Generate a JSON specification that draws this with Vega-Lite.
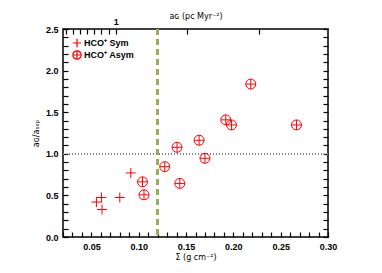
{
  "$schema": "https://vega.github.io/schema/vega-lite/v6.json",
  "autosize": "none",
  "width": 265,
  "height": 208,
  "padding": {"left": 63, "top": 29, "right": 54, "bottom": 36},
  "background": "white",
  "config": {
    "view": {"stroke": "black", "strokeWidth": 1.5, "fill": null},
    "font": "DejaVu Sans",
    "axis": {
      "zindex": 1,
      "domain": false,
      "ticks": true,
      "tickSize": 5,
      "offset": -5,
      "tickColor": "black",
      "tickWidth": 1.2,
      "tickOpacity": 1,
      "labelColor": "black",
      "labelFont": "Liberation Sans",
      "labelFontSize": 9,
      "labelFontWeight": "bold",
      "labelOverlap": false,
      "labelFlush": false,
      "titleFont": "DejaVu Sans",
      "titleFontSize": 8,
      "titleFontWeight": "normal",
      "titleColor": "black",
      "grid": false
    }
  },
  "data": {
    "values": [
      {"sigma": 0.0553, "ratio": 0.42, "type": "HCO⁺ Sym"},
      {"sigma": 0.0606, "ratio": 0.475, "type": "HCO⁺ Sym"},
      {"sigma": 0.0612, "ratio": 0.33, "type": "HCO⁺ Sym"},
      {"sigma": 0.080, "ratio": 0.475, "type": "HCO⁺ Sym"},
      {"sigma": 0.0916, "ratio": 0.77, "type": "HCO⁺ Sym"},
      {"sigma": 0.104, "ratio": 0.663, "type": "HCO⁺ Asym"},
      {"sigma": 0.1056, "ratio": 0.507, "type": "HCO⁺ Asym"},
      {"sigma": 0.1275, "ratio": 0.845, "type": "HCO⁺ Asym"},
      {"sigma": 0.1405, "ratio": 1.078, "type": "HCO⁺ Asym"},
      {"sigma": 0.1434, "ratio": 0.644, "type": "HCO⁺ Asym"},
      {"sigma": 0.1638, "ratio": 1.163, "type": "HCO⁺ Asym"},
      {"sigma": 0.170, "ratio": 0.946, "type": "HCO⁺ Asym"},
      {"sigma": 0.192, "ratio": 1.408, "type": "HCO⁺ Asym"},
      {"sigma": 0.198, "ratio": 1.347, "type": "HCO⁺ Asym"},
      {"sigma": 0.2184, "ratio": 1.838, "type": "HCO⁺ Asym"},
      {"sigma": 0.2667, "ratio": 1.347, "type": "HCO⁺ Asym"}
    ]
  },
  "resolve": {"axis": {"x": "independent", "y": "independent"}},
  "encoding": {
    "x": {"type": "quantitative", "scale": {"domain": [0.02, 0.30], "nice": false, "zero": false}},
    "y": {"type": "quantitative", "scale": {"domain": [0, 2.5], "nice": false, "zero": false}}
  },
  "layer": [
    {
      "mark": {"type": "rule", "color": "#9aae58", "strokeWidth": 2, "strokeDash": [6, 4]},
      "encoding": {"x": {"datum": 0.12, "type": "quantitative", "axis": null}}
    },
    {
      "mark": {"type": "rule", "color": "#808080", "strokeWidth": 1, "strokeDash": [1, 2]},
      "encoding": {"y": {"datum": 1, "type": "quantitative", "axis": null}}
    },
    {
      "mark": {"type": "point", "filled": false, "strokeWidth": 1, "opacity": 1, "size": 100},
      "encoding": {
        "x": {
          "field": "sigma", "type": "quantitative",
          "axis": {
            "orient": "bottom",
            "title": "Σ (g cm⁻²)",
            "values": [0.02,0.03,0.04,0.05,0.06,0.07,0.08,0.09,0.1,0.11,0.12,0.13,0.14,0.15,0.16,0.17,0.18,0.19,0.2,0.21,0.22,0.23,0.24,0.25,0.26,0.27,0.28,0.29,0.3],
            "labelExpr": "round(datum.value*100) % 5 === 0 ? format(datum.value, '.2f') : ''",
            "labelPadding": 5,
            "titlePadding": 2
          }
        },
        "y": {
          "field": "ratio", "type": "quantitative",
          "axis": {
            "orient": "left",
            "title": "aɢ/aₛₑₚ",
            "values": [0,0.1,0.2,0.3,0.4,0.5,0.6,0.7,0.8,0.9,1,1.1,1.2,1.3,1.4,1.5,1.6,1.7,1.8,1.9,2,2.1,2.2,2.3,2.4,2.5],
            "labelExpr": "round(datum.value*10) % 5 === 0 ? format(datum.value, '.1f') : ''",
            "labelPadding": 5,
            "titlePadding": 5
          }
        },
        "shape": {
          "field": "type", "type": "nominal",
          "scale": {
            "domain": ["HCO⁺ Sym", "HCO⁺ Asym"],
            "range": ["M-1,0H1M0,-1V1", "M-1,0A1,1 0 1,1 1,0A1,1 0 1,1 -1,0ZM-1,0H1M0,-1V1"]
          },
          "legend": {
            "title": null,
            "orient": "top-left",
            "offset": 9,
            "padding": 0,
            "rowPadding": -2,
            "symbolSize": 70,
            "symbolStrokeColor": "#ff0000",
            "symbolStrokeWidth": 1.2,
            "symbolFillColor": "transparent",
            "labelFont": "Liberation Sans",
            "labelFontSize": 9,
            "labelFontWeight": "bold",
            "labelColor": "black",
            "labelOffset": 2
          }
        },
        "color": {"value": "#ff0000"}
      }
    },
    {
      "mark": {"type": "point", "opacity": 0},
      "encoding": {
        "x": {
          "datum": 0.0758, "type": "quantitative",
          "axis": {
            "orient": "top",
            "title": "aɢ (pc Myr⁻²)",
            "values": [0.0227,0.0303,0.0379,0.0455,0.0531,0.0606,0.0682,0.0758,0.1515,0.2273],
            "labelExpr": "datum.value === 0.0758 ? '1' : ''",
            "labelPadding": 3,
            "titlePadding": -3
          }
        },
        "y": {
          "datum": 1, "type": "quantitative",
          "axis": {
            "orient": "right",
            "title": null,
            "labels": false,
            "values": [0,0.1,0.2,0.3,0.4,0.5,0.6,0.7,0.8,0.9,1,1.1,1.2,1.3,1.4,1.5,1.6,1.7,1.8,1.9,2,2.1,2.2,2.3,2.4,2.5]
          }
        }
      }
    }
  ]
}
